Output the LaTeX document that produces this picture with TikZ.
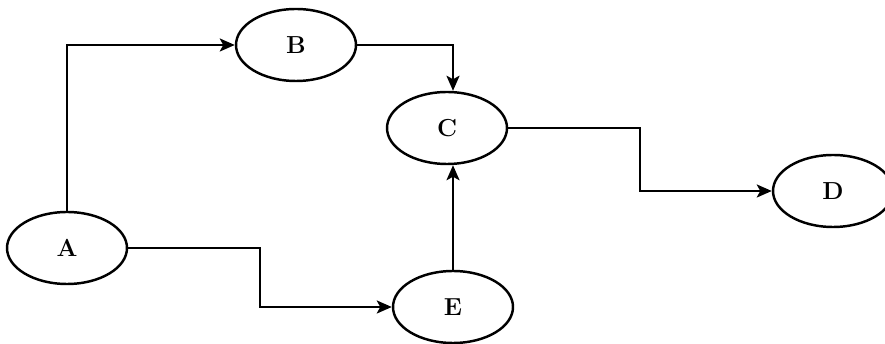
\documentclass[tikz,border=0pt]{standalone}
\usepackage{tikz}
\usetikzlibrary{arrows.meta}
\usetikzlibrary{shapes.geometric}
\usetikzlibrary{calc}
\tikzset{>={Stealth[length=0.3cm, width=0.26cm, inset=0.07cm]}}
\tikzset{event/.style = {draw, ellipse, line width=1.4pt, inner sep=0pt,
                         minimum width=2.4cm, minimum height=1.44cm,
                         font=\fontsize{14}{16}\selectfont\bfseries}}

\begin{document}
\begin{tikzpicture}[line width=1.4pt]
    \useasboundingbox (0, 0) rectangle (17.7, -6.88);

    \node [event] (A) at (1.34, -4.96) {A};
    \node [event] (B) at (5.92, -0.9) {B};
    \node [event] (C) at (8.94, -2.56) {C};
    \node [event] (E) at (9.06, -6.14) {E};
    \node [event] (D) at (16.66, -3.82) {D};

    \draw [->] (A) |- (B);
    \draw [->] (B) -| (E |- C.north);
    \draw [->] (E) -- (E |- C.south);
    \draw [->] (A.east) -| ($(A.east)!.5!(E.west)$) |- (E.west);
    \draw [->] (C.east) -| ($(C.east)!.5!(D.west)$) |- (D.west);
  \end{tikzpicture}
\end{document}
